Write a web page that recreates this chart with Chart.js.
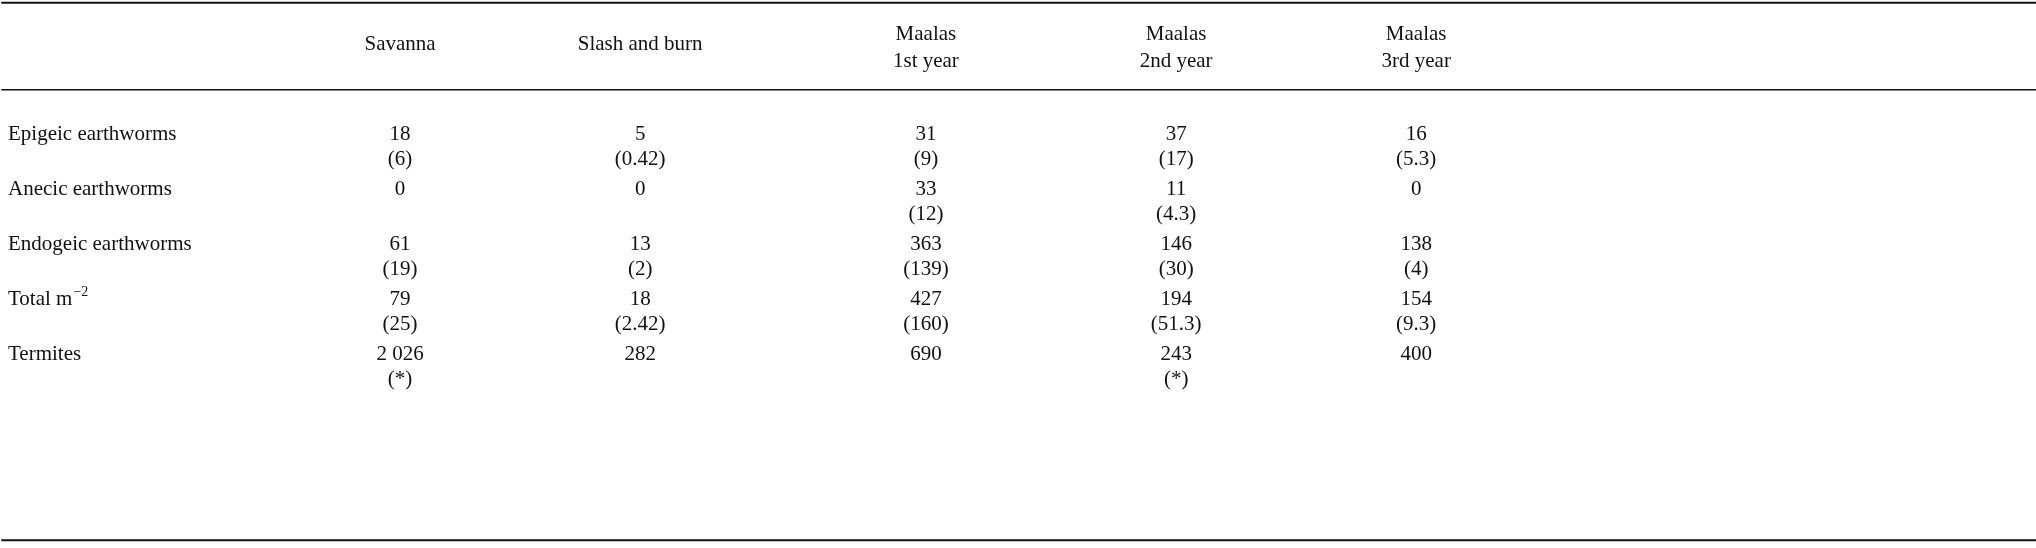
<!DOCTYPE html>
<html><head><meta charset="utf-8">
<script src="https://cdn.jsdelivr.net/npm/chart.js@4"></script>
<style>html,body{margin:0;padding:0;background:#fff}#w{width:2036px;height:548px}</style>
</head><body><div id="w"><canvas id="c"></canvas></div>
<script>
const columns = [["Savanna"], ["Slash and burn"], ["Maalas", "1st year"], ["Maalas", "2nd year"], ["Maalas", "3rd year"]];
const rowLabels = ["Epigeic earthworms", "Anecic earthworms", "Endogeic earthworms", "Total m\u207B\u00B2", "Termites"];
const values = [
  ["18", "5", "31", "37", "16"],
  ["0", "0", "33", "11", "0"],
  ["61", "13", "363", "146", "138"],
  ["79", "18", "427", "194", "154"],
  ["2 026", "282", "690", "243", "400"]
];
const errors = [
  ["(6)", "(0.42)", "(9)", "(17)", "(5.3)"],
  ["", "", "(12)", "(4.3)", ""],
  ["(19)", "(2)", "(139)", "(30)", "(4)"],
  ["(25)", "(2.42)", "(160)", "(51.3)", "(9.3)"],
  ["(*)", "", "", "(*)", ""]
];
const colX = [1, 1.945, 3.07, 4.055, 5];
const pts = [];
values.forEach((r, i) => r.forEach((v, j) => pts.push({x: colX[j], y: i, t: v, e: errors[i][j]})));

const tablePlugin = {
  id: 'table',
  afterDraw(chart) {
    const {ctx, scales: {x, y}} = chart;
    ctx.save();
    ctx.fillStyle = '#111';
    ctx.font = '21px "Liberation Serif", "DejaVu Serif", serif';
    ctx.textBaseline = 'middle';
    // rules
    ctx.strokeStyle = '#111';
    [[-2.62, 2], [-1.04, 1.5], [7.15, 2]].forEach(([v, w]) => {
      ctx.lineWidth = w;
      const py = y.getPixelForValue(v);
      ctx.beginPath(); ctx.moveTo(x.getPixelForValue(-0.57), py); ctx.lineTo(x.getPixelForValue(7.44), py); ctx.stroke();
    });
    // headers
    ctx.textAlign = 'center';
    columns.forEach((c, j) => {
      const px = x.getPixelForValue(colX[j]);
      const cy = y.getPixelForValue(-1.8);
      if (c.length === 1) ctx.fillText(c[0], px, cy - 3);
      else { ctx.fillText(c[0], px, cy - 13); ctx.fillText(c[1], px, cy + 14); }
    });
    // cells
    pts.forEach(p => {
      const px = x.getPixelForValue(p.x), py = y.getPixelForValue(p.y);
      ctx.fillText(p.t, px, py - 12);
      if (p.e) ctx.fillText(p.e, px, py + 13);
    });
    ctx.textAlign = 'left';
    rowLabels.forEach((l, i) => {
      const py = y.getPixelForValue(i) - 12;
      if (l.startsWith('Total')) {
        ctx.fillText('Total m', 8, py);
        const w = ctx.measureText('Total m').width;
        ctx.font = '14px "Liberation Serif", serif';
        ctx.fillText('\u22122', 8 + w + 1, py - 8);
        ctx.font = '21px "Liberation Serif", "DejaVu Serif", serif';
      } else ctx.fillText(l, 8, py);
    });
    ctx.restore();
  }
};

new Chart(document.getElementById('c'), {
  type: 'scatter',
  data: {datasets: [{data: pts, pointRadius: 0, pointHoverRadius: 0}]},
  options: {
    responsive: true, maintainAspectRatio: false, animation: false,
    layout: {padding: 0},
    plugins: {legend: {display: false}, tooltip: {enabled: false}},
    scales: {
      x: {type: 'linear', min: -0.575, max: 7.44, display: false},
      y: {type: 'linear', reverse: true, min: -2.67, max: 7.29, display: false}
    }
  },
  plugins: [tablePlugin]
});
</script></body></html>
